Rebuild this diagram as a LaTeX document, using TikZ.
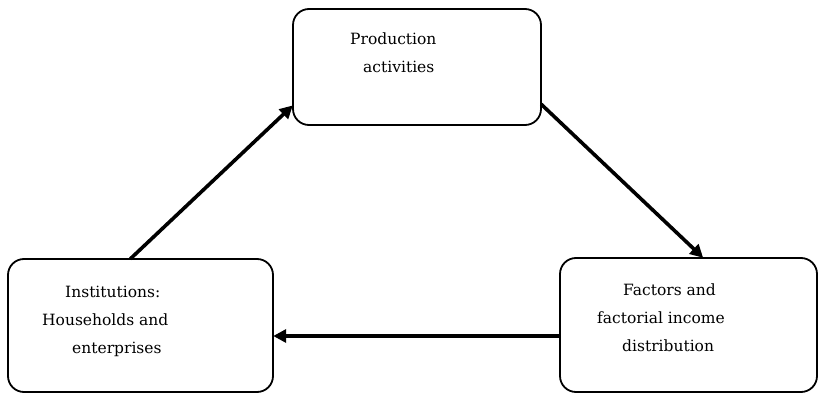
\documentclass[tikz,border=0pt]{standalone}
\usepackage{fontspec}
\setmainfont{DejaVu Serif}
\usetikzlibrary{calc,arrows.meta}
\begin{document}
\begin{tikzpicture}[x=1pt,y=-1pt,
  box/.style={draw=black,line width=1.8pt,rounded corners=16pt,fill=white},
  txt/.style={anchor=base west,inner sep=0pt,font=\fontsize{15.5}{18}\selectfont},
  conn/.style={line width=3.6pt,-{Triangle[length=13pt,width=13pt]}}]
\useasboundingbox (0,0) rectangle (821,395);
% boxes
\path[box] (293,9) rectangle (541,125);
\node[inner sep=0pt,minimum width=248pt,minimum height=116pt] (prod) at (417,67) {};
\path[box] (8,259) rectangle (273,392);
\node[inner sep=0pt,minimum width=265pt,minimum height=133pt] (inst) at (140.5,325.5) {};
\path[box] (560,258) rectangle (817,392);
\node[inner sep=0pt,minimum width=257pt,minimum height=134pt] (fact) at (688.5,325) {};
% texts
\node[txt] (p1) at (350,45) {Production};
\node[txt] (p2) at (363,73) {activities};
\node[txt] (i1) at (65,297) {Institutions:};
\node[txt] (i2) at (42,325) {Households and};
\node[txt] (i3) at (72,353) {enterprises};
\node[txt] (f1) at (623,295) {Factors and};
\node[txt] (f2) at (597,323) {factorial income};
\node[txt] (f3) at (622,351) {distribution};
% connectors
\draw[conn] ($(inst.north west)!0.462!(inst.north east)$) -- ($(prod.north west)!0.83!(prod.south west)$);
\draw[conn] ($(prod.north east)!0.82!(prod.south east)$) -- ($(fact.north west)!0.557!(fact.north east)$);
\draw[conn] (fact.west |- 0,336) -- (inst.east |- 0,336);
\end{tikzpicture}
\end{document}
